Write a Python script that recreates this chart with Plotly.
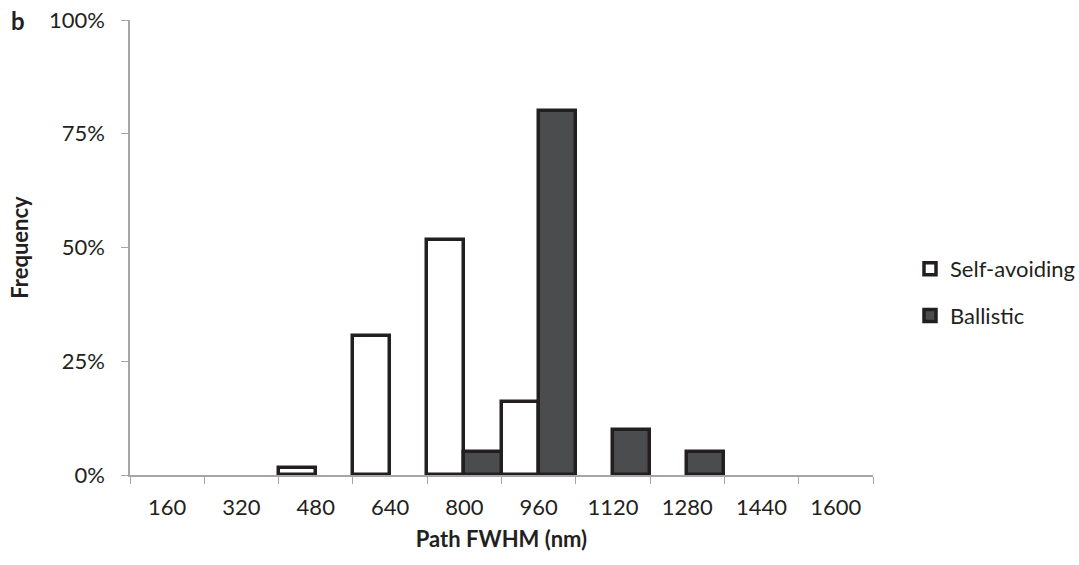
import plotly.graph_objects as go

# Path FWHM bins (nm) and frequency of each path type (%)
categories = ["160", "320", "480", "640", "800", "960", "1120", "1280", "1440", "1600"]
self_avoiding = [0, 0, 1.6, 30.6, 51.6, 16.1, 0, 0, 0, 0]
ballistic = [0, 0, 0, 0, 5, 80, 10, 5, 0, 0]
y_ticks = [0, 25, 50, 75, 100]
y_tick_labels = ["0%", "25%", "50%", "75%", "100%"]

FONT = "Lato, Open Sans, sans-serif"
TEXT = "#231f20"
OUTLINE = "#231f20"
AXIS = "#a6a6a6"
FS = 22

# plot area in pixels
W, H = 1079, 565
L, R, T, B = 130, 206, 20, 90
PW, PH = W - L - R, H - T - B


def px_x(x):
    return (x - L) / PW


def px_y(y):
    return (H - B - y) / PH


def hide_zero(values):
    # empty bins are left undrawn
    return [v if v else None for v in values]


fig = go.Figure()
fig.add_trace(go.Bar(
    x=categories, y=hide_zero(self_avoiding), name="Self-avoiding",
    legendgroup="a",
    marker=dict(color="white", line=dict(color=OUTLINE, width=3.5)),
))
fig.add_trace(go.Bar(
    x=categories, y=hide_zero(ballistic), name="Ballistic",
    legendgroup="b",
    marker=dict(color="#4a4c4e", line=dict(color=OUTLINE, width=3.5)),
))

fig.update_layout(
    width=W, height=H,
    margin=dict(l=L, r=R, t=T, b=B, autoexpand=False),
    paper_bgcolor="white", plot_bgcolor="white",
    barmode="group", bargap=0, bargroupgap=0,
    font=dict(family=FONT, size=FS, color=TEXT),
    showlegend=True,
    legend=dict(
        x=px_x(910), xanchor="left", y=px_y(248), yanchor="top",
        font=dict(size=FS), tracegroupgap=15,
        bgcolor="rgba(0,0,0,0)", traceorder="grouped",
    ),
    xaxis=dict(
        type="category", tickson="boundaries", automargin=False,
        ticks="outside", ticklen=7, tickcolor=AXIS, tickwidth=1,
        ticklabelstandoff=12,
        showline=True, linecolor=AXIS, linewidth=1.5,
        showgrid=False, zeroline=False,
        tickfont=dict(size=FS),
        title=dict(text="<b>Path FWHM (nm)</b>", font=dict(size=FS), standoff=12),
    ),
    yaxis=dict(
        range=[0, 100], tickvals=y_ticks, ticktext=y_tick_labels, automargin=False,
        ticks="outside", ticklen=7, tickcolor=AXIS, tickwidth=1,
        ticklabelstandoff=12,
        showline=True, linecolor=AXIS, linewidth=1.5,
        showgrid=False, zeroline=False,
        tickfont=dict(size=FS),
        title=dict(text="<b>Frequency</b>", font=dict(size=FS), standoff=14),
    ),
    annotations=[dict(
        text="<b>b</b>", x=px_x(9), y=px_y(21), xref="paper", yref="paper",
        showarrow=False, font=dict(size=FS + 2), xanchor="left", yanchor="middle",
    )],
)

fig.write_html("out.html")
